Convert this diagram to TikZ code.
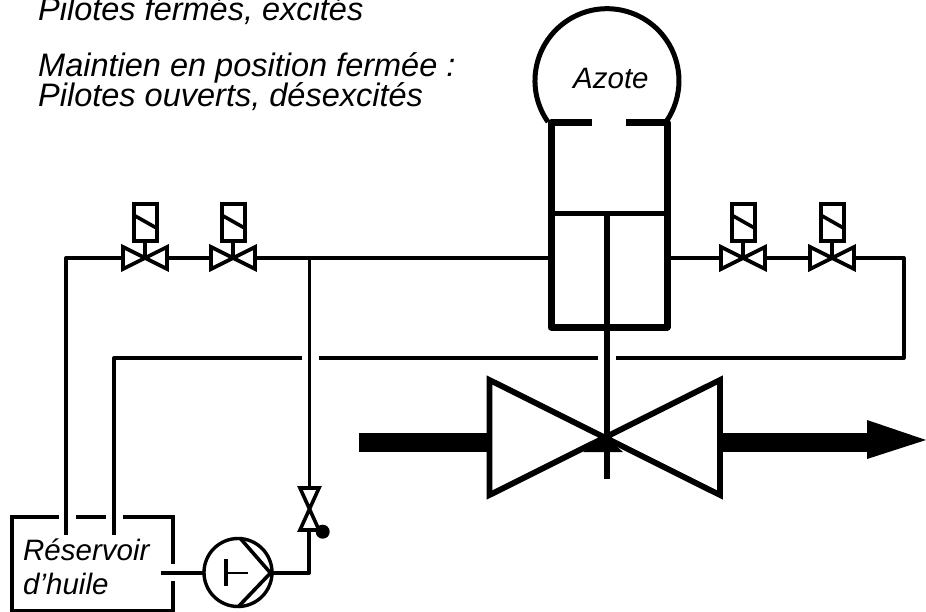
\documentclass[tikz,border=0pt]{standalone}
\usepackage{fontspec}
\setmainfont{Liberation Sans}
\begin{document}
\begin{tikzpicture}[x=1pt,y=-1pt,
  line join=miter,
  pipe/.style={line width=4pt,line join=round,line cap=butt},
  thinpipe/.style={line width=3pt,line join=round},
  vessel/.style={line width=7pt,line join=round,line cap=butt},
  tank/.style={line width=4.6pt,line join=miter},
  label/.style={anchor=base west,inner sep=0pt,font=\itshape\fontsize{32.5}{33}\selectfont,text=black},
  smalllabel/.style={anchor=base west,inner sep=0pt,font=\itshape\fontsize{29.5}{30}\selectfont,text=black},
  solvalve/.pic={
    \draw[line width=3.8pt,line join=miter,fill=white] (-22,-11) -- (22,11) -- (22,-11) -- (-22,11) -- cycle;
    \draw[line width=4pt] (0,0) -- (0,-17);
    \draw[line width=4pt,fill=white] (-11.5,-54) rectangle (11.5,-17);
    \draw[line width=3.6pt] (-11.5,-43) -- (11.5,-30);
  }]
\useasboundingbox (0,0) rectangle (926,612);
\clip (0,0) rectangle (926,612);
\fill[white] (0,0) rectangle (926,612);
% reference points
\coordinate (cylL) at (551,258);
\coordinate (cylR) at (667,258);
\coordinate (v1) at (145,258);
\coordinate (v2) at (233,258);
\coordinate (v3) at (743,258);
\coordinate (v4) at (832,258);
\coordinate (tee) at (309,258);
\coordinate (cornerTL) at (66,258);
\coordinate (cornerTR) at (903.5,258);
\coordinate (cornerBR) at (903.5,358);
\coordinate (cornerBL) at (114,358);
\coordinate (tankA) at (66,535);
\coordinate (tankB) at (114,535);
\coordinate (gapA) at (302,358);
\coordinate (gapB) at (319,358);
\coordinate (gapC) at (598,358);
\coordinate (gapD) at (616,358);
\coordinate (handTop) at (309,488);
\coordinate (handBot) at (309,530);
\coordinate (pumpOut) at (272,573);
\coordinate (pumpBend) at (309,573);
\coordinate (pumpC) at (238,572.5);
\coordinate (pumpIn) at (204,573);
\coordinate (tankOut) at (161,573);
% pipes
\draw[pipe] (cylL) -- (tee) -- (v2) -- (v1) -- (cornerTL) -- (tankA);
\draw[pipe] (cylR) -- (v3) -- (v4) -- (cornerTR) -- (cornerBR) -- (gapD);
\draw[pipe] (gapC) -- (gapB);
\draw[pipe] (gapA) -- (cornerBL) -- (tankB);
\draw[thinpipe] (tee) -- (handTop);
% solenoid valves
\pic at (v1) {solvalve};
\pic at (v2) {solvalve};
\pic at (v3) {solvalve};
\pic at (v4) {solvalve};
% accumulator / cylinder
\draw[line width=5pt] (548,122) arc[start angle=145,delta angle=250,radius=72];
\draw[vessel] (592,123) -- (551,123) -- (551,327) -- (667,327) -- (667,123) -- (626,123);
\draw[line width=5.5pt] (551,213.5) -- (667,213.5);
\draw[line width=6pt] (607,213.5) -- (607,479);
% main pipe
\fill (359,433) rectangle (490,452);
\fill (720,433) rectangle (867,452);
\fill (867,420) -- (926,440) -- (867,459) -- cycle;
% main valve
\fill (583,452) -- (623,452) -- (605,436) -- cycle;
\draw[line width=5.8pt,line join=miter] (489.5,380) -- (720,495) -- (720,380) -- (489.5,495) -- cycle;
% tank
\draw[tank] (59,517) -- (12,517) -- (12,611) -- (173,611) -- (173,581);
\draw[tank] (173,564) -- (173,517) -- (123,517);
\draw[tank] (76,517) -- (106,517);
% pump line
\draw[pipe] (tankOut) -- (pumpIn);
\draw[pipe] (pumpOut) -- (pumpBend) -- (handBot);
\draw[line width=3.4pt] (pumpC) circle[radius=34];
\draw[line width=3.6pt,line join=miter] (240,538) -- (270.5,573) -- (238,607);
\draw[line width=3.6pt] (226,559) -- (226,586);
\draw[line width=2.8pt] (226,573) -- (248,573);
% hand valve
\draw[line width=3.6pt,line join=miter,fill=white] (300,488) -- (319,488) -- (300,530) -- (319,530) -- cycle;
\fill (322.7,531.7) circle[radius=7];
% texts
\node[label] (t1) at (38,21) {Pilotes fermés, excités};
\node[label] (t2) at (38,77) {Maintien en position fermée :};
\node[label] (t3) at (38,107) {Pilotes ouverts, désexcités};
\node[smalllabel] (t4) at (573,89) {Azote};
\node[smalllabel] (t5) at (23,560) {Réservoir};
\node[smalllabel] (t6) at (23,594) {d\symbol{39}huile};
\end{tikzpicture}
\end{document}
